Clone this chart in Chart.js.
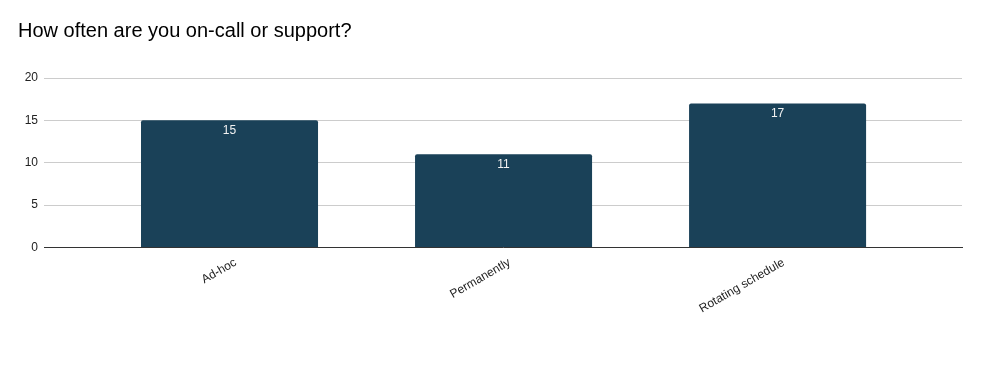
<!DOCTYPE html>
<html><head><meta charset="utf-8">
<script src="https://cdn.jsdelivr.net/npm/chart.js@4"></script>
<style>html,body{margin:0;padding:0;background:#fff}#wrap{width:981px;height:371px}</style>
</head><body><div id="wrap"><canvas id="c"></canvas></div>
<script>
const categories = ["Ad-hoc", "Permanently", "Rotating schedule"];
const counts = [15, 11, 17];
const yTicks = [0, 5, 10, 15, 20];
const titleText = "How often are you on-call or support?";

const FONT = "'Liberation Sans', Arial, sans-serif";
const valueLabels = {
  id: 'valueLabels',
  afterDatasetsDraw(chart) {
    const ctx = chart.ctx;
    const meta = chart.getDatasetMeta(0);
    ctx.save();
    ctx.fillStyle = '#f2f2f2';
    ctx.font = '12px ' + FONT;
    ctx.textAlign = 'center';
    ctx.textBaseline = 'middle';
    meta.data.forEach((bar, i) => {
      ctx.fillText(String(counts[i]), bar.x, bar.y + 10.5);
    });
    ctx.restore();
  }
};

new Chart(document.getElementById('c'), {
  type: 'bar',
  data: {
    datasets: [{
      data: counts.map((v, i) => ({x: i, y: v})),
      backgroundColor: '#1a4158',
      borderRadius: {topLeft: 2, topRight: 2},
      borderSkipped: 'bottom',
      categoryPercentage: 1,
      barPercentage: 0.646
    }]
  },
  options: {
    responsive: true,
    maintainAspectRatio: false,
    animation: false,
    layout: {padding: {left: 18, right: 19, top: 0, bottom: 47}},
    plugins: {
      legend: {display: false},
      tooltip: {enabled: false},
      title: {
        display: true, text: titleText, align: 'start', color: '#000',
        font: {family: FONT, size: 20, weight: 'normal'},
        padding: {top: 19, bottom: 35}
      }
    },
    scales: {
      x: {
        type: 'linear', min: -0.677, max: 2.673, bounds: 'data', offset: false,
        afterBuildTicks(scale) { scale.ticks = categories.map((c, i) => ({value: i})); },
        grid: {display: false, drawTicks: false},
        border: {display: true, color: '#333333', width: 1},
        ticks: {
          autoSkip: false, minRotation: 30, maxRotation: 30, padding: 8, labelOffset: 6,
          color: '#222', font: {family: FONT, size: 12},
          callback: (v) => categories[v]
        }
      },
      y: {
        min: 0, max: 20,
        afterBuildTicks(scale) { scale.ticks = yTicks.map(v => ({value: v})); },
        afterFit(scale) { scale.width = 26; },
        grid: {color: '#cccccc', drawTicks: false},
        border: {display: false},
        ticks: {padding: 6, color: '#222', font: {family: FONT, size: 12}}
      }
    }
  },
  plugins: [valueLabels]
});
</script></body></html>
